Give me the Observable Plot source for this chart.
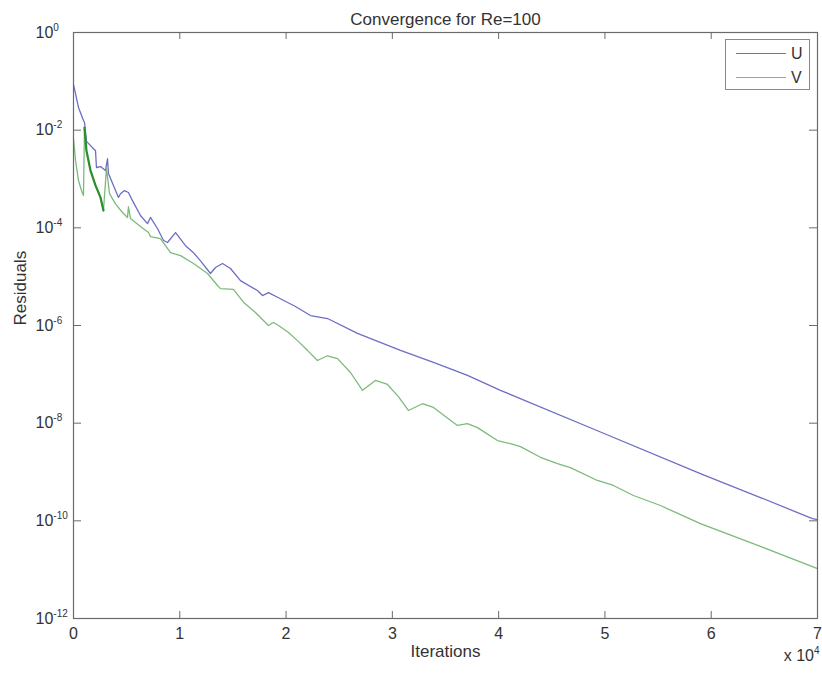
<!DOCTYPE html>
<html>
<head>
<meta charset="utf-8">
<script src="https://cdn.jsdelivr.net/npm/d3@7"></script>
<script src="https://cdn.jsdelivr.net/npm/@observablehq/plot@0.6"></script>
<style>
  html, body { margin: 0; padding: 0; background: #fff; }
  #wrap { position: relative; width: 822px; height: 675px; font-family: "Liberation Sans", Arial, sans-serif; }
  #legend { position: absolute; left: 725px; top: 39px; width: 85px; height: 51px; border: 1px solid #888; background: #fff; box-sizing: border-box; }
  .lrow { position: absolute; left: 0; width: 100%; height: 20px; }
  .lline { position: absolute; left: 10px; width: 50px; top: 9px; height: 0; border-top: 1.3px solid; }
  .ltext { position: absolute; left: 65px; top: 0; font-size: 16px; line-height: 20px; color: #333; }
</style>
</head>
<body>
<div id="wrap"></div>
<script>
// ---- data (iterations, residuals) ----
const uIter = [0,190,470,940,1035,1220,2070,2160,2540,3010,3200,3290,3760,4230,4420,4800,5170,5550,6300,6960,7240,7900,8470,8840,9600,10540,11290,11950,12890,13360,14020,14770,15710,17310,17780,18340,19290,20880,22300,23900,26720,30760,33870,37070,40170,49580,58980,64630,69520,70000];
const uRes = [8.6e-2,5.6e-2,2.9e-2,1.58e-2,1.44e-2,5.9e-3,3.8e-3,1.72e-3,1.8e-3,1.49e-3,2.6e-3,1.29e-3,7.4e-4,4.2e-4,5.0e-4,5.8e-4,5.3e-4,3.6e-4,1.79e-4,1.22e-4,1.63e-4,9.7e-5,5.5e-5,5.0e-5,8.0e-5,4.3e-5,3.1e-5,2.1e-5,1.16e-5,1.54e-5,1.86e-5,1.47e-5,8.3e-6,5.2e-6,4.1e-6,4.7e-6,3.7e-6,2.45e-6,1.6e-6,1.39e-6,6.9e-7,3.1e-7,1.75e-7,9.5e-8,4.7e-8,6.6e-9,9.3e-10,3.0e-10,1.11e-10,1.06e-10];

const vIter = [0,190,470,750,940,1035,1220,1600,2070,2540,2820,3100,3390,3950,4610,5080,5170,5360,6300,7060,7240,8180,9130,10070,11290,12610,13550,13830,15050,15990,17120,18340,18810,19290,20230,21070,22010,22950,23890,24840,26060,27190,28410,29540,30570,31510,32830,33870,34990,36120,37070,38010,39890,41110,42050,43930,45530,46750,49290,50800,52680,55220,58980,64630,70000];
const vRes = [6.7e-3,2.4e-3,9.3e-4,5.8e-4,4.6e-4,1.13e-2,3.8e-3,1.49e-3,7.4e-4,4.2e-4,2.26e-4,1.64e-3,5.0e-4,3.1e-4,2.06e-4,1.63e-4,2.7e-4,1.55e-4,1.06e-4,8.0e-5,6.6e-5,6.0e-5,3.1e-5,2.7e-5,1.86e-5,1.16e-5,6.6e-6,5.7e-6,5.5e-6,3.0e-6,1.85e-6,1.0e-6,1.15e-6,1.0e-6,7.2e-7,4.9e-7,3.1e-7,1.92e-7,2.4e-7,2.1e-7,1.09e-7,4.7e-8,7.5e-8,6.2e-8,3.5e-8,1.82e-8,2.5e-8,2.1e-8,1.37e-8,9.0e-9,9.8e-9,8.1e-9,4.4e-9,3.8e-9,3.3e-9,2.0e-9,1.49e-9,1.23e-9,6.7e-10,5.3e-10,3.3e-10,2.06e-10,8.8e-11,3.0e-11,1.05e-11];

// dense (darker) stretch of V between these iterations
const vDarkRange = [1035, 2820];

const yTickExps = [0,-2,-4,-6,-8,-10,-12];
const xTickVals = [0,10000,20000,30000,40000,50000,60000,70000];
const seriesNames = ["U","V"];
const titleText = "Convergence for Re=100";
const xLabel = "Iterations";
const yLabel = "Residuals";
const xExpLabel = "x 10^4";

// ---- build ----
const blue = "#6d6dc6", green = "#7cba7c", darkGreen = "#2c8f2c", axisCol = "#6a6a6a", textCol = "#333";
const W = 822, H = 675, mL = 73, mR = 5, mT = 32, mB = 57;
const innerW = W - mL - mR, innerH = H - mT - mB;

const uData = uIter.map((x, i) => ({x, y: uRes[i]}));
const vData = vIter.map((x, i) => ({x, y: vRes[i]}));
const vDark = vData.filter(d => d.x >= vDarkRange[0] && d.x <= vDarkRange[1]);
const yTicks = yTickExps.map(e => Math.pow(10, e));

const chart = Plot.plot({
  width: W, height: H,
  marginLeft: mL, marginRight: mR, marginTop: mT, marginBottom: mB,
  style: {fontFamily: '"Liberation Sans", Arial, sans-serif', background: "#fff", color: textCol, overflow: "visible"},
  x: {domain: [0, 70000], axis: null},
  y: {type: "log", domain: [1e-12, 1], axis: null},
  marks: [
    Plot.line(uData, {x: "x", y: "y", stroke: blue, strokeWidth: 1.3}),
    Plot.line(vData, {x: "x", y: "y", stroke: green, strokeWidth: 1.3}),
    Plot.line(vDark, {x: "x", y: "y", stroke: darkGreen, strokeWidth: 2.2}),
    Plot.frame({stroke: axisCol, strokeWidth: 1.2}),
    // inward ticks on four sides
    Plot.tickY(yTicks, {y: d => d, insetRight: innerW - 8, stroke: axisCol}),
    Plot.tickY(yTicks, {y: d => d, insetLeft: innerW - 8, stroke: axisCol}),
    Plot.tickX(xTickVals, {x: d => d, insetTop: innerH - 7, stroke: axisCol}),
    Plot.tickX(xTickVals, {x: d => d, insetBottom: innerH - 7, stroke: axisCol}),
    // tick labels
    Plot.text(yTickExps, {y: d => Math.pow(10, d), text: d => "10^" + d, frameAnchor: "left", textAnchor: "start", dx: -38, fontSize: 16, fill: textCol}),
    Plot.text(xTickVals, {x: d => d, text: d => String(d / 10000), frameAnchor: "bottom", lineAnchor: "top", dy: 9, fontSize: 16, fill: textCol}),
    Plot.text([xExpLabel], {frameAnchor: "bottom-right", textAnchor: "end", dx: 2, dy: 42, fontSize: 16, fill: textCol}),
    // title and labels
    Plot.text([titleText], {frameAnchor: "top", dy: -20, fontSize: 17, fill: textCol}),
    Plot.text([xLabel], {frameAnchor: "bottom", dy: 38, fontSize: 17, fill: textCol}),
    Plot.text([yLabel], {frameAnchor: "left", rotate: -90, dx: -53, fontSize: 17, fill: textCol})
  ]
});

// superscripts for "10^n"
d3.select(chart).selectAll("text").each(function () {
  const t = this.textContent;
  if (!t.includes("^")) return;
  const [base, exp] = t.split("^");
  const sel = d3.select(this);
  sel.text(null);
  sel.append("tspan").text(base);
  sel.append("tspan").attr("font-size", 10).attr("dy", -7).text(exp);
});

const wrap = document.getElementById("wrap");
wrap.appendChild(chart);

// legend
const legend = document.createElement("div");
legend.id = "legend";
const colors = [blue, green];
seriesNames.forEach((name, i) => {
  const row = document.createElement("div");
  row.className = "lrow";
  row.style.top = (4 + i * 24) + "px";
  row.innerHTML = `<div class="lline" style="border-top-color:${colors[i]}"></div><div class="ltext">${name}</div>`;
  legend.appendChild(row);
});
wrap.appendChild(legend);
</script>
</body>
</html>
